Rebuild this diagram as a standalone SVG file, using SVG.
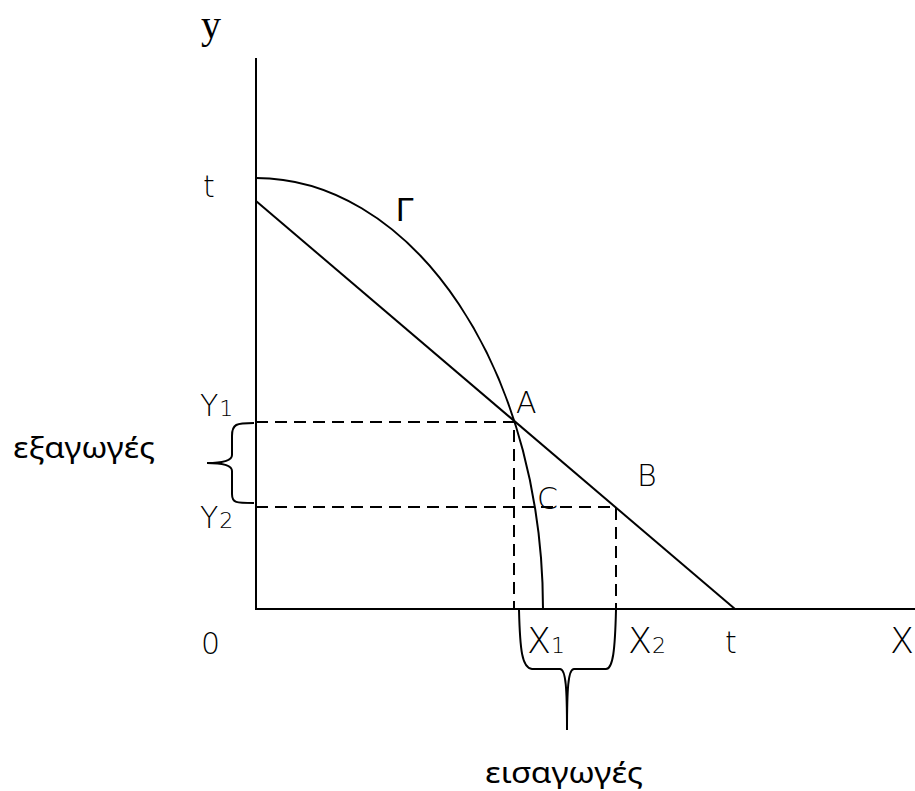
<svg xmlns="http://www.w3.org/2000/svg" width="915" height="791" viewBox="0 0 915 791">
<style>
.ln{fill:none;stroke:#000;stroke-width:2}
.ds{fill:none;stroke:#000;stroke-width:2;stroke-dasharray:12,7}
.lt{font-family:"DejaVu Sans","Noto Sans",sans-serif;font-weight:200;font-size:30px;fill:#000}
.big{font-size:35px}
.gk{font-family:"Noto Sans","DejaVu Sans",sans-serif;font-size:29px;fill:#000}
.sub{font-size:22px}
</style>
<rect width="915" height="791" fill="#fff"/>
<g id="axes">
<line class="ln" x1="256" y1="58" x2="256" y2="610"/>
<line class="ln" x1="255" y1="609" x2="915" y2="609"/>
</g>
<g id="connectors">
<path id="curve" class="ln" d="M256,178 A287,431 0 0 1 543,609"/>
<line id="budget" class="ln" x1="256" y1="201" x2="735" y2="609"/>
<polyline class="ds" points="256,422 514,422 514,609"/>
<polyline class="ds" points="256,507 616,507 616,609"/>
<path id="brace-left" class="ln" d="M254,423 C236,423 232,424 232,436 L232,455 C232,461 222,463 207,463 C222,463 232,465 232,471 L232,494 C232,503 236,503 254,503"/>
<path id="brace-bottom" class="ln" d="M519,610 C520,650 522,668 532,669 L560,669 C566,669 567,690 567,730 C567,690 568,669 574,669 L606,669 C613,669 615,650 616,610"/>
</g>
<g id="labels">
<text x="201" y="38" font-family="Liberation Serif,serif" font-size="40">y</text>
<text class="lt" x="203" y="197">t</text>
<text x="396" y="221" font-family="Liberation Sans,sans-serif" font-size="33">Γ</text>
<text class="lt" x="200" y="416">Y<tspan class="sub" dx="1">1</tspan></text>
<text class="lt" x="200" y="528">Y<tspan class="sub" dx="1">2</tspan></text>
<text class="lt" x="516" y="413">A</text>
<text class="lt" x="637" y="486">B</text>
<text class="lt" x="537" y="509">C</text>
<text class="lt" x="201" y="654">0</text>
<text class="lt big" x="527" y="653">X<tspan class="sub" dx="0">1</tspan></text>
<text class="lt big" x="628" y="653">X<tspan class="sub" dx="0">2</tspan></text>
<text class="lt" x="725" y="653">t</text>
<text class="lt big" x="890" y="653">X</text>
<text class="gk" x="13" y="458" textLength="142" lengthAdjust="spacingAndGlyphs">εξαγωγές</text>
<text class="gk" x="485" y="783" textLength="158" lengthAdjust="spacingAndGlyphs">εισαγωγές</text>
</g>
</svg>
